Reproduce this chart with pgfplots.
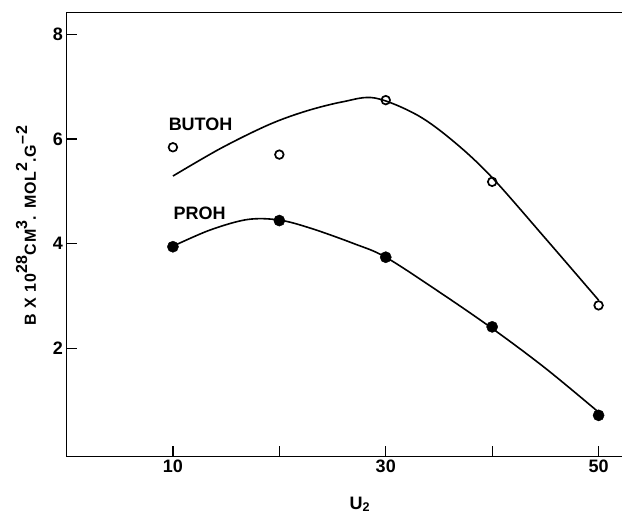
\documentclass[border=0pt]{standalone}
\usepackage{pgfplots}
\pgfplotsset{compat=1.18}
\usepackage{fontspec}
\setmainfont{Liberation Sans}
\newcommand{\up}[1]{\raisebox{0.55em}{#1}}
\begin{document}
\begin{tikzpicture}
\begin{axis}[
    name=ax,
    scale only axis,
    width=555.5pt, height=444pt,
    xmin=0, xmax=52.2,
    ymin=-0.07, ymax=8.41,
    axis x line*=box, axis y line*=left,
    xtick pos=left, ytick pos=left,
    tick align=inside,
    xtick={10,20,30,40,50},
    xticklabels={10,,30,,50},
    ytick={2,4,6,8},
    major tick length=11pt,
    every tick/.style={black, line width=1.3pt},
    axis line style={line width=1.4pt},
    ticklabel style={font=\fontsize{18}{18}\selectfont\bfseries},
    /pgf/number format/assume math mode=true,
    xlabel={U\textsubscript{2}},
    xlabel style={at={(rel axis cs:0.528,0)}, anchor=base, yshift=-52.3pt,
        font=\fontsize{18}{18}\selectfont\bfseries},
    ylabel={B X 10\up{28}CM\up{3}. MOL\up{2}.G\up{–2}},
    ylabel style={at={(rel axis cs:0,0.52)}, anchor=base, yshift=30.5pt,
        font=\fontsize{16}{16}\selectfont\bfseries\addfontfeature{LetterSpace=6}},
    clip=false,
]
% BUTOH: measured points and fitted curve
\addplot[only marks, mark=o, mark size=4.3pt, mark options={line width=1.7pt}]
    coordinates {(10,5.84) (20,5.70) (30,6.74) (40,5.18) (50,2.82)};
\addplot[smooth, line width=1.6pt, tension=0.55]
    coordinates {(10,5.29) (14.5,5.82) (19,6.27) (22.5,6.53) (26,6.71) (29,6.78) (33,6.45) (36.5,5.93) (40,5.26) (45,4.10) (50,2.92)};
% PROH: measured points and fitted curve
\addplot[only marks, mark=*, mark size=5.6pt]
    coordinates {(10,3.94) (20,4.44) (30,3.74) (40,2.41) (50,0.72)};
\addplot[smooth, line width=1.6pt, tension=0.55]
    coordinates {(10,3.95) (13.5,4.26) (17,4.46) (20,4.45) (23,4.29) (27,4.00) (30,3.74) (35,3.08) (40,2.38) (45,1.62) (50,0.78)};
\node[font=\fontsize{18}{18}\selectfont\bfseries] at (axis cs:12.6,6.27) {BUTOH};
\node[font=\fontsize{18}{18}\selectfont\bfseries] at (axis cs:12.5,4.58) {PROH};
\end{axis}
\pgfresetboundingbox
\path ([shift={(-66.5pt,-58.3pt)}]ax.south west) rectangle ([shift={(0pt,12.7pt)}]ax.north east);
\end{tikzpicture}
\end{document}
